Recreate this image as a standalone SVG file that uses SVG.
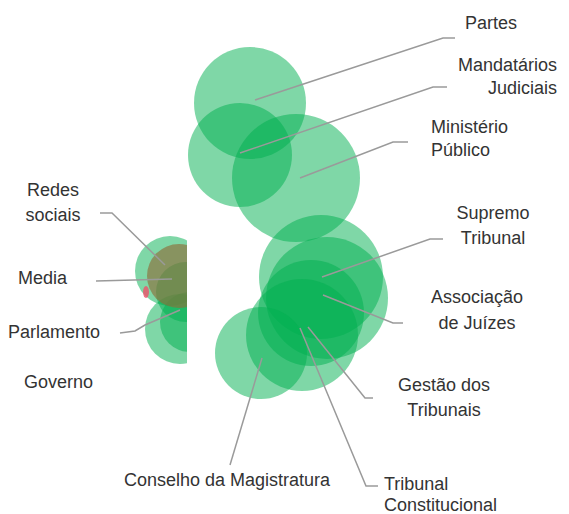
<svg xmlns="http://www.w3.org/2000/svg" width="569" height="514" viewBox="0 0 569 514">
<style>
.c{fill:#00b050;fill-opacity:0.5}
.l{fill:none;stroke:#9a9a9a;stroke-width:1.5}
text{font-family:"Liberation Sans",Arial,sans-serif;font-size:18px;fill:#333}
</style>
<defs><clipPath id="lc"><rect x="0" y="0" width="187" height="514"/></clipPath></defs>
<rect width="569" height="514" fill="#fff"/>
<g id="left-cluster" clip-path="url(#lc)">
<circle class="c" cx="170" cy="271" r="35"/>
<circle class="c" cx="186" cy="292" r="30"/>
<circle class="c" cx="180" cy="329" r="35"/>
<circle class="c" cx="190" cy="322" r="30"/>
<ellipse cx="146" cy="292" rx="3" ry="6" fill="#f0506a" fill-opacity="0.8"/>
<circle cx="179" cy="276" r="32" fill="#8e6e3a" fill-opacity="0.65"/>
</g>
<g id="n-partes"><circle class="c" cx="250" cy="103" r="56"/></g>
<g id="n-mandatarios"><circle class="c" cx="240" cy="155" r="52"/></g>
<g id="n-ministerio"><circle class="c" cx="296" cy="178" r="64"/></g>
<g id="n-supremo"><circle class="c" cx="321" cy="277" r="62"/></g>
<g id="n-associacao"><circle class="c" cx="327" cy="298" r="61"/></g>
<g id="n-gestao"><circle class="c" cx="311" cy="313" r="53"/></g>
<g id="n-tribunal-const"><circle class="c" cx="302" cy="335" r="56"/></g>
<g id="n-conselho"><circle class="c" cx="261" cy="353" r="46"/></g>
<g id="connectors">
<polyline class="l" points="255,100 443,38 455,38"/>
<polyline class="l" points="240,153 433,87 447,87"/>
<polyline class="l" points="300,178 393,142 408,142"/>
<polyline class="l" points="322,277 430,239 443,239"/>
<polyline class="l" points="323,295 393,323 403,323"/>
<polyline class="l" points="308,327 365,398 373,398"/>
<polyline class="l" points="300,328 366,486 378,486"/>
<polyline class="l" points="262,358 230,465"/>
<polyline class="l" points="100,213 112,213 165,265"/>
<polyline class="l" points="96,281 172,279"/>
<polyline class="l" points="120,333 135,331 145,325 180,310"/>
</g>
<g id="labels">
<text x="465" y="29">Partes</text>
<text x="557" y="71" text-anchor="end">Mandatários</text>
<text x="557" y="94" text-anchor="end">Judiciais</text>
<text x="431" y="133">Ministério</text>
<text x="431" y="156">Público</text>
<text x="493" y="219" text-anchor="middle">Supremo</text>
<text x="493" y="244" text-anchor="middle">Tribunal</text>
<text x="477" y="303" text-anchor="middle">Associação</text>
<text x="477" y="329" text-anchor="middle">de Juízes</text>
<text x="444" y="391" text-anchor="middle">Gestão dos</text>
<text x="444" y="416" text-anchor="middle">Tribunais</text>
<text x="384" y="490">Tribunal</text>
<text x="384" y="511">Constitucional</text>
<text x="124" y="486">Conselho da Magistratura</text>
<text x="53" y="196" text-anchor="middle">Redes</text>
<text x="53" y="221" text-anchor="middle">sociais</text>
<text x="18" y="284">Media</text>
<text x="8" y="338">Parlamento</text>
<text x="24" y="388">Governo</text>
</g>
</svg>
